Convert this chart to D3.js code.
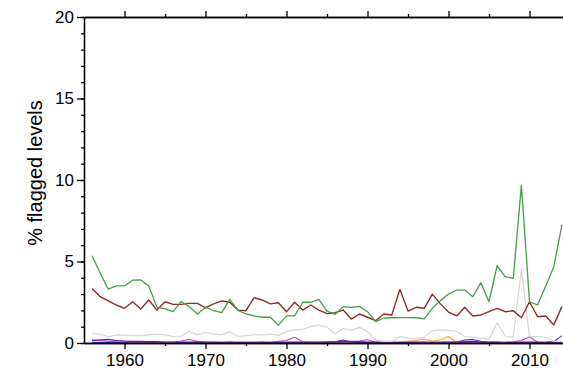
<!DOCTYPE html>
<html>
<head>
<meta charset="utf-8">
<script src="https://cdn.jsdelivr.net/npm/d3@7"></script>
<style>
  html, body { margin: 0; padding: 0; background: #fff; }
  svg { display: block; }
  text { font-family: "Liberation Sans", Arial, Helvetica, sans-serif; }
</style>
</head>
<body>
<svg id="chart" width="563" height="371"></svg>
<script>
(function(){
	'use strict';

	// years 1956 .. 2014
	var years = d3.range(1956, 2015);

	var greenVals = [5.35, 4.3, 3.3, 3.5, 3.5, 3.85, 3.87, 3.5, 2.2, 2.1,
		1.92, 2.55, 2.23, 1.78, 2.2, 1.98, 1.86, 2.68, 2.0, 1.78,
		1.66, 1.58, 1.58, 1.1, 1.66, 1.66, 2.5, 2.5, 2.68, 1.95,
		1.75, 2.23, 2.19, 2.25, 1.92, 1.31, 1.52, 1.55, 1.56, 1.56,
		1.55, 1.48, 2.13, 2.6, 3.0, 3.25, 3.25, 2.84, 3.7, 2.53,
		4.74, 4.07, 3.97, 9.69, 2.53, 2.33, 3.5, 4.68, 7.24];

	var redVals = [3.35, 2.84, 2.58, 2.33, 2.13, 2.53, 2.09, 2.64, 2.02, 2.53,
		2.37, 2.37, 2.43, 2.43, 2.15, 2.4, 2.58, 2.5, 2.02, 1.98,
		2.78, 2.64, 2.4, 2.47, 1.92, 2.5, 2.02, 2.33, 2.02, 1.8,
		1.86, 2.02, 1.47, 1.78, 1.58, 1.37, 1.78, 1.72, 3.29, 1.96,
		2.19, 2.13, 3.0, 2.4, 1.9, 1.66, 2.19, 1.66, 1.72, 1.92,
		2.13, 1.92, 1.98, 1.55, 2.53, 1.61, 1.66, 1.1, 2.23];

	var grayVals = [0.6, 0.55, 0.38, 0.5, 0.48, 0.45, 0.45, 0.5, 0.55, 0.5,
		0.4, 0.42, 0.72, 0.5, 0.65, 0.55, 0.5, 0.7, 0.4, 0.45,
		0.5, 0.5, 0.55, 0.47, 0.7, 0.8, 0.84, 1.0, 1.1, 0.98,
		0.55, 0.9, 0.76, 0.96, 0.7, 0.18, 0.1, 0.1, 0.39, 0.3,
		0.25, 0.36, 0.76, 0.8, 0.78, 0.72, 0.4, 0.36, 0.3, 0.25,
		1.25, 0.43, 0.35, 4.58, 0.39, 0.39, 0.35, 0.1, 0.1];

	var purpleVals = [0.15, 0.2, 0.22, 0.15, 0.12, 0.1, 0.1, 0.08, 0.08, 0.06,
		0.05, 0.05, 0.06, 0.05, 0.05, 0.05, 0.04, 0.05, 0.04, 0.04,
		0.04, 0.05, 0.04, 0.04, 0.05, 0.06, 0.05, 0.05, 0.06, 0.06,
		0.08, 0.12, 0.1, 0.08, 0.06, 0.05, 0.05, 0.04, 0.04, 0.04,
		0.05, 0.05, 0.04, 0.05, 0.05, 0.06, 0.08, 0.1, 0.06, 0.05,
		0.05, 0.04, 0.04, 0.05, 0.05, 0.05, 0.04, 0.05, 0.06];

	var magentaVals = [0.2, 0.15, 0.1, 0.08, 0.06, 0.05, 0.05, 0.05, 0.04, 0.04,
		0.05, 0.12, 0.22, 0.1, 0.05, 0.05, 0.04, 0.04, 0.05, 0.04,
		0.04, 0.04, 0.05, 0.1, 0.15, 0.35, 0.08, 0.05, 0.05, 0.06,
		0.05, 0.05, 0.08, 0.12, 0.2, 0.05, 0.04, 0.04, 0.04, 0.04,
		0.04, 0.03, 0.03, 0.03, 0.03, 0.03, 0.03, 0.04, 0.04, 0.03,
		0.03, 0.04, 0.08, 0.15, 0.38, 0.05, 0.04, 0.04, 0.04];

	var blueVals = [0.04, 0.04, 0.03, 0.03, 0.03, 0.03, 0.03, 0.03, 0.03, 0.03,
		0.03, 0.03, 0.03, 0.03, 0.03, 0.03, 0.03, 0.03, 0.03, 0.03,
		0.03, 0.03, 0.03, 0.03, 0.03, 0.03, 0.03, 0.03, 0.03, 0.04,
		0.06, 0.18, 0.05, 0.04, 0.03, 0.03, 0.03, 0.03, 0.03, 0.03,
		0.03, 0.03, 0.03, 0.03, 0.04, 0.06, 0.18, 0.22, 0.1, 0.05,
		0.04, 0.03, 0.03, 0.03, 0.03, 0.03, 0.04, 0.08, 0.45];

	var orangeVals = [0.02, 0.02, 0.02, 0.02, 0.02, 0.02, 0.02, 0.02, 0.02, 0.02,
		0.02, 0.02, 0.02, 0.02, 0.02, 0.02, 0.02, 0.02, 0.02, 0.02,
		0.02, 0.02, 0.02, 0.02, 0.02, 0.02, 0.02, 0.02, 0.02, 0.02,
		0.02, 0.02, 0.02, 0.02, 0.02, 0.02, 0.02, 0.03, 0.05, 0.1,
		0.15, 0.25, 0.1, 0.2, 0.4, 0.05, 0.05, 0.03, 0.03, 0.03,
		0.03, 0.03, 0.03, 0.03, 0.03, 0.03, 0.03, 0.03, 0.03];

	var cyanVals = [0.01, 0.01, 0.01, 0.01, 0.01, 0.01, 0.01, 0.01, 0.01, 0.01,
		0.01, 0.01, 0.01, 0.01, 0.01, 0.01, 0.01, 0.01, 0.01, 0.01,
		0.01, 0.01, 0.01, 0.01, 0.01, 0.01, 0.01, 0.01, 0.01, 0.01,
		0.01, 0.01, 0.01, 0.01, 0.01, 0.01, 0.01, 0.01, 0.01, 0.01,
		0.01, 0.01, 0.01, 0.01, 0.01, 0.01, 0.01, 0.01, 0.01, 0.01,
		0.01, 0.01, 0.01, 0.01, 0.01, 0.01, 0.01, 0.01, 0.01];

	var yMajor = [0, 5, 10, 15, 20];
	var yMinor = d3.range(0, 21);
	var xMajor = [1960, 1970, 1980, 1990, 2000, 2010];
	var xMinor = [1965, 1975, 1985, 1995, 2005, 2015];

	var series = [
		{ name: 'cyan', values: cyanVals, color: '#33c6c6', width: 1.1 },
		{ name: 'orange', values: orangeVals, color: '#f2a93b', width: 1.1 },
		{ name: 'blue', values: blueVals, color: '#3b3bd6', width: 1.1 },
		{ name: 'magenta', values: magentaVals, color: '#d23cd2', width: 1.1 },
		{ name: 'purple', values: purpleVals, color: '#6a1ea8', width: 1.2 },
		{ name: 'gray', values: grayVals, color: '#d6d6d6', width: 1.2 },
		{ name: 'red', values: redVals, color: '#8e2b2b', width: 1.4 },
		{ name: 'green', values: greenVals, color: '#43a043', width: 1.3 }
	];

	var margin = { left: 84, top: 17, bottom: 343 };
	var chart = d3.select('#chart');

	var x = d3.scaleLinear().domain([1955, 2016]).range([margin.left, margin.left + 61 * 8.1]);
	var y = d3.scaleLinear().domain([0, 20]).range([margin.bottom, margin.top]);

	// data lines
	var line = d3.line()
		.x(function(d){ return x(d.year); })
		.y(function(d){ return y(d.value); });

	series.forEach(function(s){
		var pts = s.values.map(function(v, i){ return { year: years[i], value: v }; });
		chart.append('path')
			.datum(pts)
			.attr('fill', 'none')
			.attr('stroke', s.color)
			.attr('stroke-width', s.width)
			.attr('stroke-linejoin', 'round')
			.attr('d', line);
	});

	function styleAxis(g){
		g.selectAll('path.domain').attr('stroke', '#000').attr('stroke-width', 1.3);
		g.selectAll('line').attr('stroke', '#000').attr('stroke-width', 1.3);
		g.selectAll('text')
			.attr('fill', '#000')
			.style('font-size', '17px')
			.style('font-family', '"Liberation Sans", Arial, sans-serif');
	}

	// left axis
	chart.append('g')
		.attr('transform', 'translate(' + margin.left + ',0)')
		.call(d3.axisLeft(y).tickValues(yMinor).tickSize(3).tickSizeOuter(0).tickFormat(''))
		.call(styleAxis);
	chart.append('g')
		.attr('transform', 'translate(' + margin.left + ',0)')
		.call(d3.axisLeft(y).tickValues(yMajor).tickSize(7).tickSizeOuter(0).tickPadding(3).tickFormat(d3.format('d')))
		.call(styleAxis);

	// bottom axis
	chart.append('g')
		.attr('transform', 'translate(0,' + margin.bottom + ')')
		.call(d3.axisBottom(x).tickValues(xMinor).tickSize(3).tickSizeOuter(0).tickFormat(''))
		.call(styleAxis);
	chart.append('g')
		.attr('transform', 'translate(0,' + margin.bottom + ')')
		.call(d3.axisBottom(x).tickValues(xMajor).tickSize(6).tickSizeOuter(0).tickPadding(5).tickFormat(d3.format('d')))
		.call(styleAxis);

	// top axis (no labels)
	chart.append('g')
		.attr('transform', 'translate(0,' + margin.top + ')')
		.call(d3.axisTop(x).tickValues(xMinor).tickSize(3).tickSizeOuter(0).tickFormat(''))
		.call(styleAxis);
	chart.append('g')
		.attr('transform', 'translate(0,' + margin.top + ')')
		.call(d3.axisTop(x).tickValues(xMajor).tickSize(6).tickSizeOuter(0).tickFormat(''))
		.call(styleAxis);

	// y label
	chart.append('text')
		.attr('transform', 'translate(42,173) rotate(-90)')
		.attr('text-anchor', 'middle')
		.style('font-size', '20px')
		.attr('fill', '#000')
		.text('% flagged levels');

})();
</script>
</body>
</html>
